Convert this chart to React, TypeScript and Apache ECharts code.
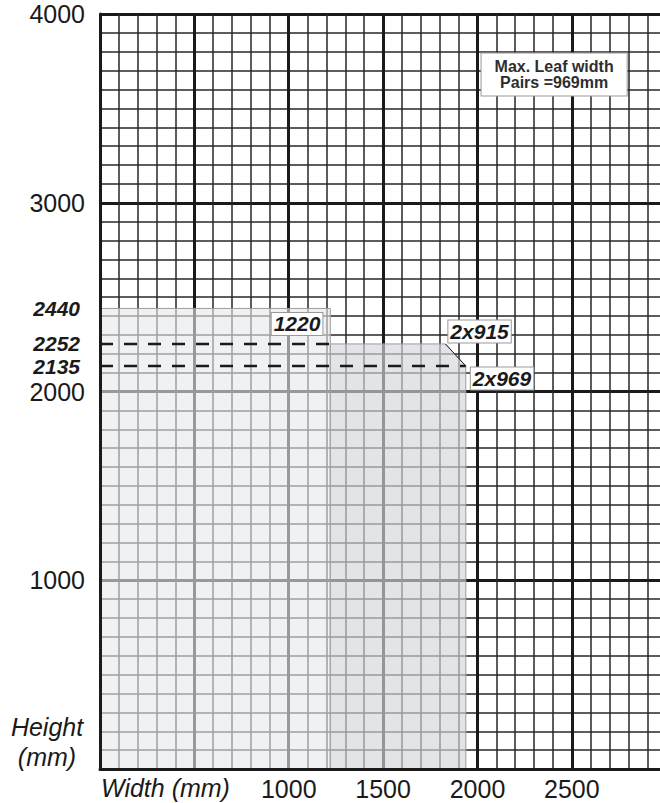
import React, { useEffect, useRef } from "react";
import * as echarts from "echarts";

// ---- data ----
const X_MAX = 2967;
const Y_MAX = 4000;
const X_TICK_LABELS = [1000, 1500, 2000, 2500];
const Y_TICK_LABELS = [1000, 2000, 3000, 4000];

const SINGLE_LEAF_WIDTH = 1220;
const PAIR_915_WIDTH = 2 * 915;
const PAIR_969_WIDTH = 2 * 969;
const SINGLE_LEAF_HEIGHT = 2440;
const PAIR_915_HEIGHT = 2252;
const PAIR_969_HEIGHT = 2135;
const MARKED_HEIGHTS = [SINGLE_LEAF_HEIGHT, PAIR_915_HEIGHT, PAIR_969_HEIGHT];

const REGION_SINGLE = [
  [0, 0],
  [0, SINGLE_LEAF_HEIGHT],
  [SINGLE_LEAF_WIDTH, SINGLE_LEAF_HEIGHT],
  [SINGLE_LEAF_WIDTH, 0],
];
const REGION_PAIR = [
  [SINGLE_LEAF_WIDTH, 0],
  [SINGLE_LEAF_WIDTH, PAIR_915_HEIGHT],
  [PAIR_915_WIDTH, PAIR_915_HEIGHT],
  [PAIR_969_WIDTH, PAIR_969_HEIGHT],
  [PAIR_969_WIDTH, 0],
];
const REGIONS = [REGION_SINGLE, REGION_PAIR];

const DASH_915 = [
  [0, PAIR_915_HEIGHT],
  [SINGLE_LEAF_WIDTH, PAIR_915_HEIGHT],
];
const DASH_969 = [
  [0, PAIR_969_HEIGHT],
  [PAIR_969_WIDTH, PAIR_969_HEIGHT],
];
const CHAMFER = [
  [PAIR_915_WIDTH, PAIR_915_HEIGHT],
  [PAIR_969_WIDTH, PAIR_969_HEIGHT],
];

const CALLOUT_TEXTS = ["1220", "2x915", "2x969"];
const NOTE_TEXT = "Max. Leaf width\nPairs =969mm";

// ---- annotation layout (data coordinates of label centres) ----
const CALLOUT_ANCHORS = [
  [1044, 2358],
  [2011, 2318],
  [2130, 2069],
];
const NOTE_ANCHOR = [2406, 3680];

const FONT = "'Liberation Sans', Arial, Helvetica, sans-serif";
const INK = "#1a1a1a";

export default function App() {
  const ref = useRef<HTMLDivElement>(null);
  useEffect(() => {
    if (!ref.current) return;
    const chart = echarts.init(ref.current, null, { renderer: "svg" });
    const grid = { left: 100, top: 14, right: 0, bottom: 34, outerBoundsMode: "none", containLabel: false };

    const minorLine = { show: true, lineStyle: { color: "#262626", width: 1.5 } };
    const majorLine = { show: true, lineStyle: { color: "#1a1a1a", width: 3 } };

    const baseX = {
      type: "value",
      position: "bottom",
      offset: 0,
      min: 0,
      max: X_MAX,
      axisTick: { show: false },
      axisLabel: { show: false },
      axisLine: { show: false },
    };
    const baseY = {
      type: "value",
      position: "left",
      offset: 0,
      min: 0,
      max: Y_MAX,
      axisTick: { show: false },
      axisLabel: { show: false },
      axisLine: { show: false },
    };

    const labelStyle = {
      fontFamily: FONT,
      fontWeight: "bold",
      color: INK,
    };

    const option: any = {
      animation: false,
      backgroundColor: "#fff",
      grid,
      xAxis: [
        { ...baseX, interval: 100, splitLine: { ...minorLine, showMaxLine: false }, z: 0 },
        { ...baseX, interval: 500, splitLine: { ...majorLine, showMaxLine: false }, z: 0 },
        {
          ...baseX,
          interval: 500,
          z: 10,
          splitLine: { show: false },
          axisLine: { show: true, onZero: false, lineStyle: { color: INK, width: 3 } },
          axisLabel: {
            show: true,
            margin: 7,
            fontFamily: FONT,
            fontSize: 25,
            color: INK,
            formatter: (v: number) => (X_TICK_LABELS.includes(v) ? String(v) : ""),
          },
        },
      ],
      yAxis: [
        { ...baseY, interval: 100, splitLine: minorLine, z: 0 },
        { ...baseY, interval: 1000, splitLine: majorLine, z: 0 },
        {
          ...baseY,
          interval: 1000,
          z: 10,
          splitLine: { show: false },
          axisLine: { show: true, onZero: false, lineStyle: { color: INK, width: 3 } },
          axisLabel: {
            show: true,
            margin: 15,
            fontFamily: FONT,
            fontSize: 25,
            color: INK,
            formatter: (v: number) => (Y_TICK_LABELS.includes(v) ? String(v) : ""),
          },
        },
      ],
      series: [
        {
          type: "custom",
          name: "regions",
          z: 2,
          data: REGIONS.map((r) => r[0]),
          renderItem: (params: any, api: any) => {
            const pts = REGIONS[params.dataIndex].map((p) => api.coord(p));
            const fills = ["rgba(231,232,236,0.62)", "rgba(212,214,218,0.66)"];
            return {
              type: "polygon",
              shape: { points: pts },
              style: { fill: fills[params.dataIndex], stroke: "#9c9c9c", lineWidth: 1 },
            };
          },
        },
        {
          type: "line",
          name: "dash915",
          z: 5,
          data: DASH_915,
          symbol: "none",
          lineStyle: { color: INK, width: 2.5, type: [13, 11] },
        },
        {
          type: "line",
          name: "dash969",
          z: 5,
          data: DASH_969,
          symbol: "none",
          lineStyle: { color: INK, width: 2.5, type: [13, 11] },
        },
        {
          type: "line",
          name: "chamfer",
          z: 5,
          data: CHAMFER,
          symbol: "none",
          lineStyle: { color: INK, width: 1 },
        },
        {
          type: "scatter",
          name: "heights",
          z: 6,
          symbolSize: 0,
          itemStyle: { color: "#000", opacity: 1 },
          data: MARKED_HEIGHTS.map((h) => [0, h]),
          label: {
            show: true,
            position: "left",
            distance: 20,
            formatter: (p: any) => String(p.value[1]),
            ...labelStyle,
            fontSize: 21,
            fontStyle: "italic",
          },
        },
        {
          type: "scatter",
          name: "callouts",
          z: 8,
          symbolSize: 0,
          itemStyle: { color: "#000", opacity: 1 },
          data: [
            ...CALLOUT_TEXTS.map((t, i) => ({
              value: CALLOUT_ANCHORS[i],
              label: {
                formatter: t,
                fontSize: 21,
                fontStyle: "italic",
                padding: [1, 2, 0, 2],
                lineHeight: 21,
              },
            })),
            {
              value: NOTE_ANCHOR,
              label: {
                formatter: NOTE_TEXT,
                fontSize: 16,
                fontStyle: "normal",
                lineHeight: 16,
                color: "#2e2e2e",
                padding: [5, 13, 5, 13],
              },
            },
          ],
          label: {
            show: true,
            position: "inside",
            ...labelStyle,
            backgroundColor: "#fff",
            borderColor: "#999",
            borderWidth: 1,
            align: "center",
            verticalAlign: "middle",
          },
        },
      ],
      graphic: [
        {
          type: "text",
          left: 101,
          top: 775,
          style: {
            text: "Width (mm)",
            fontFamily: FONT,
            fontSize: 25,
            fontStyle: "italic",
            fill: INK,
          },
        },
        {
          type: "text",
          x: 47,
          y: 742,
          style: {
            text: "Height\n(mm)",
            fontFamily: FONT,
            fontSize: 25,
            fontStyle: "italic",
            lineHeight: 30,
            fill: INK,
            align: "center",
            verticalAlign: "middle",
          },
        },
      ],
    };
    chart.setOption(option);
    return () => chart.dispose();
  }, []);
  return (
    <div
      ref={ref}
      style={{ position: "absolute", left: 0, top: 0, width: 660, height: 803 }}
    />
  );
}
